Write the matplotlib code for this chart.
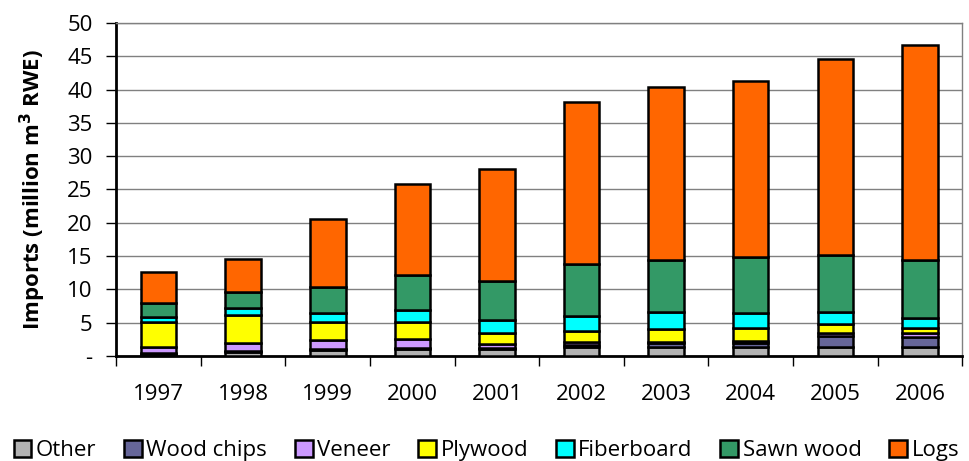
import numpy as np
import matplotlib.pyplot as plt

plt.rcParams['font.family'] = ['Open Sans', 'DejaVu Sans']

years = ['1997', '1998', '1999', '2000', '2001', '2002', '2003', '2004', '2005', '2006']

other      = [0.3, 0.6, 0.9, 1.1, 1.0, 1.3, 1.4, 1.3, 1.4, 1.3]
wood_chips = [0.1, 0.1, 0.1, 0.1, 0.15, 0.3, 0.5, 0.7, 1.6, 1.5]
veneer     = [1.0, 1.3, 1.4, 1.4, 0.6, 0.5, 0.2, 0.3, 0.5, 0.6]
plywood    = [3.7, 4.1, 2.65, 2.55, 1.75, 1.65, 1.95, 1.95, 1.3, 0.8]
fiberboard = [0.8, 1.15, 1.45, 1.75, 1.85, 2.2, 2.5, 2.15, 1.8, 1.55]
sawn_wood  = [2.0, 2.3, 3.8, 5.3, 5.85, 7.85, 7.85, 8.5, 8.6, 8.65]
logs       = [4.7, 5.0, 10.3, 13.6, 16.9, 24.3, 26.0, 26.4, 29.4, 32.3]

names = ['Other', 'Wood chips', 'Veneer', 'Plywood', 'Fiberboard', 'Sawn wood', 'Logs']
series = [other, wood_chips, veneer, plywood, fiberboard, sawn_wood, logs]
colors = ['#B2B2B2', '#666699', '#CC99FF', '#FFFF00', '#00FFFF', '#339966', '#FF6600']

fig = plt.figure(figsize=(9.69, 4.61), dpi=100)
ax = fig.add_axes([0.12, 0.228, 0.873, 0.722])

x = np.arange(len(years))
bottom = np.zeros(len(years))
for vals, name, c in zip(series, names, colors):
    ax.bar(x, vals, bottom=bottom, width=0.42, color=c, edgecolor='black',
           linewidth=1.8, label=name, zorder=3)
    bottom += np.array(vals)

ax.set_xlim(-0.5, len(years) - 0.5)
ax.set_ylim(0, 50)
ax.set_yticks(np.arange(0, 51, 5))
ax.set_yticklabels(['-'] + [str(v) for v in range(5, 51, 5)], fontsize=16)
ax.yaxis.grid(True, color='#808080', linewidth=1, zorder=0)

# category labels between separator ticks
ax.set_xticks(np.arange(-0.5, len(years), 1))
ax.set_xticklabels([])
ax.tick_params(axis='x', length=7, width=1, direction='out')
ax.set_xticks(x, minor=True)
ax.set_xticklabels(years, minor=True, fontsize=16)
ax.tick_params(axis='x', which='minor', length=0, pad=20)
ax.tick_params(axis='y', length=7, width=1, direction='out', pad=10)

for s in ['left', 'bottom']:
    ax.spines[s].set_linewidth(2)
    ax.spines[s].set_color('black')
for s in ['top', 'right']:
    ax.spines[s].set_linewidth(1)
    ax.spines[s].set_color('#808080')

ax.set_ylabel('Imports (million m$^\\mathbf{3}$ RWE)', fontsize=16, fontweight='bold', labelpad=14)

fig.legend(loc='lower center', bbox_to_anchor=(0.502, -0.02), ncol=7, frameon=False,
           fontsize=16, handlelength=0.8, handleheight=0.8, handletextpad=0.2,
           columnspacing=1.25, borderaxespad=0)

fig.savefig('out.png', dpi=100)
